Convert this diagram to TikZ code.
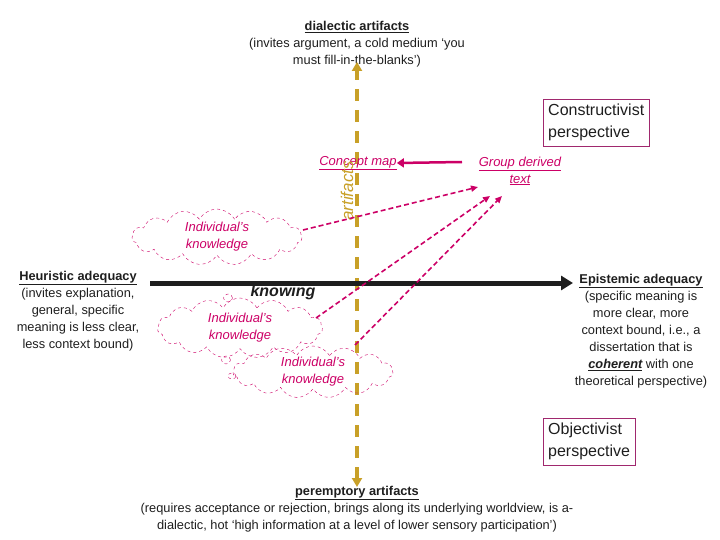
\documentclass[tikz,border=0pt]{standalone}
\usepackage{fontspec}
\setmainfont{Liberation Sans}
\usetikzlibrary{shapes.symbols,shapes.geometric,arrows.meta}
\definecolor{pk}{RGB}{204,0,102}
\definecolor{gd}{RGB}{200,160,40}
\definecolor{bx}{RGB}{160,40,110}
\definecolor{tx}{RGB}{30,30,30}
\begin{document}
\begin{tikzpicture}[x=1pt,y=-1pt,
  body/.style={align=center,text=tx,font=\fontsize{12.8}{17}\selectfont,inner sep=0},
  persp/.style={draw=bx,align=left,text=tx,font=\fontsize{16}{22}\selectfont,inner sep=5pt},
  pinktxt/.style={text=pk,align=center,font=\fontsize{13}{17}\selectfont\itshape,inner sep=0},
  thought/.style={cloud,cloud puffs=15,cloud puff arc=120,cloud ignores aspect,draw=pk,dashed,text=pk,align=center,font=\fontsize{13}{17}\selectfont\itshape,inner sep=0},
  darr/.style={pk,dashed,line width=1.6pt,dash pattern=on 5pt off 3pt,-{Triangle[length=7pt,width=6pt]}}]
\useasboundingbox (0,0) rectangle (720,540);
\node[body] (top) at (357,44) {\textbf{\underline{dialectic artifacts}}\\(invites argument, a cold medium `you\\must fill-in-the-blanks')};
\node[body] (bot) at (357,509) {\textbf{\underline{peremptory artifacts}}\\(requires acceptance or rejection, brings along its underlying worldview, is a-\\dialectic, hot `high information at a level of lower sensory participation')};
\coordinate (vt) at (357,62);
\coordinate (vb) at (357,487);
\draw[gd,line width=4pt,dash pattern=on 12pt off 9pt,{Triangle[length=9pt,width=10pt]}-{Triangle[length=9pt,width=10pt]}] (vb) -- (vt);
\node[body] (heu) at (78,311) {\textbf{\underline{Heuristic adequacy}}\\(invites explanation,\\general, specific\\meaning is less clear,\\less context bound)};
\node[body] (epi) at (641,331) {\textbf{\underline{Epistemic adequacy}}\\(specific meaning is\\more clear, more\\context bound, i.e., a\\dissertation that is\\\textbf{\textit{\underline{coherent}}} with one\\theoretical perspective)};
\coordinate (hl) at (150,283);
\coordinate (hr) at (573,283);
\draw[tx,line width=5pt,-{Triangle[length=12pt,width=14pt]}] (hl) -- (hr);
\node[text=tx,font=\fontsize{16}{18}\selectfont\bfseries\itshape] (know) at (283,292) {knowing};
\node[persp,anchor=north west] (con) at (543,99) {Constructivist\\perspective};
\node[persp,anchor=north west] (obj) at (543,418) {Objectivist\\perspective};
\node[pinktxt] (cmap) at (358,163) {\underline{Concept map}};
\node[pinktxt] (grp) at (520,171) {\underline{Group derived}\\\underline{text}};
\node[text=gd,rotate=90,font=\fontsize{17}{18}\selectfont\itshape,inner sep=0] (art) at (347,191) {artifacts};
\draw[pk,line width=2.5pt,-{Triangle[length=7pt,width=9pt]}] (462,162) -- (cmap.east);
\node[thought,minimum width=170pt,minimum height=56pt] (c1) at (217,237) {Individual's\\knowledge};
\node[thought,minimum width=165pt,minimum height=60pt] (c2) at (240,328) {Individual's\\knowledge};
\node[thought,minimum width=160pt,minimum height=52pt] (c3) at (313,372) {Individual's\\knowledge};
\node[draw=pk,dashed,ellipse,minimum width=9pt,minimum height=8pt,inner sep=0] (b1) at (228,298) {};
\node[draw=pk,dashed,ellipse,minimum width=9pt,minimum height=8pt,inner sep=0] (b2) at (226,360) {};
\node[draw=pk,dashed,ellipse,minimum width=8pt,minimum height=6pt,inner sep=0] (b3) at (232,376) {};
\coordinate (g1) at (478,187);
\coordinate (g2) at (490,196);
\coordinate (g3) at (502,196);
\draw[darr] (303,230) -- (g1);
\draw[darr] (316,318) -- (g2);
\draw[darr] (355,345) -- (g3);
\end{tikzpicture}
\end{document}
